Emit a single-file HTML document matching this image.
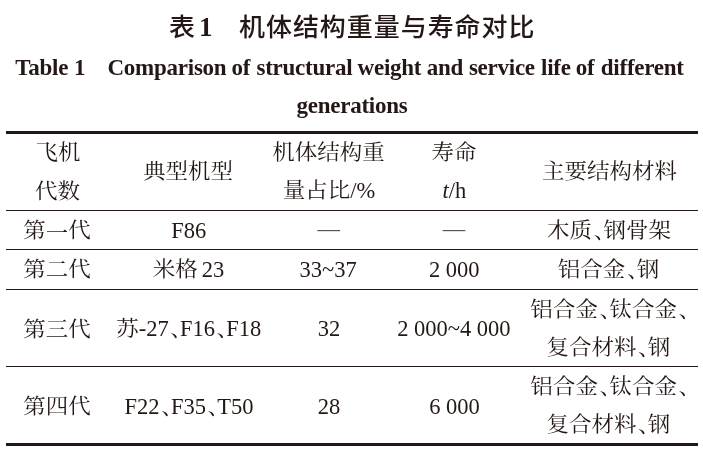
<!DOCTYPE html>
<html lang="zh-CN">
<head>
<meta charset="utf-8">
<title>表1 机体结构重量与寿命对比</title>
<style>
html,body{margin:0;padding:0;background:#fff;}
body{width:703px;height:453px;position:relative;overflow:hidden;color:#231815;}
.t{position:absolute;white-space:nowrap;transform:translateX(-50%);font-family:"Liberation Serif","Noto Serif CJK SC",serif;font-size:22.5px;line-height:26px;font-weight:400;}
.h{display:inline-block;width:0.5em;box-sizing:border-box;padding-left:1.5px;position:relative;top:1px;}
.z{display:inline-block;transform:translateY(-0.7px) scaleY(0.93);transform-origin:50% 50%;}
.s{display:inline-block;width:4px;}
.d{font-family:"Liberation Serif",serif;color:#555;position:relative;top:-2px;}
.zt{position:absolute;white-space:nowrap;transform:scaleY(0.955);transform-origin:50% 88%;font-family:"Liberation Sans","Noto Sans CJK SC",sans-serif;font-size:26px;line-height:30px;font-weight:500;}
.zn{position:absolute;white-space:nowrap;font-family:"Liberation Serif",serif;font-weight:700;font-size:27px;line-height:30px;}
.w{position:absolute;white-space:nowrap;font-family:"Liberation Serif",serif;font-weight:700;font-size:23px;line-height:24px;letter-spacing:-0.25px;}
.rule{position:absolute;left:6px;width:692px;background:#231815;}
</style>
</head>
<body>

<div class="zt" style="left:169px;top:12px;">表</div>
<div class="zn" style="left:199px;top:12px;">1</div>
<div class="zt" style="left:239px;top:12px;letter-spacing:0.95px;">机体结构重量与寿命对比</div>
<div class="w" style="left:15.3px;top:55.5px;">Table</div>
<div class="w" style="left:74.1px;top:55.5px;">1</div>
<div class="w" style="left:107.5px;top:55.5px;">Comparison</div>
<div class="w" style="left:231.6px;top:55.5px;">of</div>
<div class="w" style="left:256.5px;top:55.5px;">structural</div>
<div class="w" style="left:357.6px;top:55.5px;">weight</div>
<div class="w" style="left:426.8px;top:55.5px;">and</div>
<div class="w" style="left:468.9px;top:55.5px;">service</div>
<div class="w" style="left:541.1px;top:55.5px;">life</div>
<div class="w" style="left:575.7px;top:55.5px;">of</div>
<div class="w" style="left:600.8px;top:55.5px;">different</div>
<div class="w" style="left:296.5px;top:93.5px;">generations</div>
<div class="rule" style="top:131px;height:3px;"></div>
<div class="rule" style="top:210px;height:1px;"></div>
<div class="rule" style="top:249px;height:1px;"></div>
<div class="rule" style="top:289px;height:1px;"></div>
<div class="rule" style="top:366px;height:1px;"></div>
<div class="rule" style="top:443px;height:3px;"></div>
<div class="t" style="left:57.9px;top:140.2px;"><span class="z">飞机</span></div>
<div class="t" style="left:57.6px;top:178.7px;"><span class="z">代数</span></div>
<div class="t" style="left:188.1px;top:159px;"><span class="z">典型机型</span></div>
<div class="t" style="left:328.6px;top:140.1px;"><span class="z">机体结构重</span></div>
<div class="t" style="left:328.9px;top:177.8px;"><span class="z">量占比</span>/%</div>
<div class="t" style="left:454.0px;top:140.4px;"><span class="z">寿命</span></div>
<div class="t" style="left:454.3px;top:178px;"><i>t</i>/h</div>
<div class="t" style="left:609.6px;top:159px;"><span class="z">主要结构材料</span></div>
<div class="t" style="left:57.1px;top:218.1px;"><span class="z">第</span><span style="position:relative;top:2.5px"><span class="z">一</span></span><span class="z">代</span></div>
<div class="t" style="left:188.7px;top:218px;">F86</div>
<div class="t" style="left:328.8px;top:218px;"><span class="d">—</span></div>
<div class="t" style="left:454.0px;top:218px;"><span class="d">—</span></div>
<div class="t" style="left:609.0px;top:218.0px;"><span class="z">木质<span class="h">、</span>钢骨架</span></div>
<div class="t" style="left:57.0px;top:256.5px;"><span class="z">第二代</span></div>
<div class="t" style="left:188.5px;top:257px;"><span class="z">米格</span><span class="s"></span>23</div>
<div class="t" style="left:328.2px;top:257px;">33~37</div>
<div class="t" style="left:454.2px;top:257px;">2 000</div>
<div class="t" style="left:608.5px;top:256.5px;"><span class="z">铝合金<span class="h">、</span>钢</span></div>
<div class="t" style="left:57.0px;top:316.6px;"><span class="z">第三代</span></div>
<div class="t" style="left:188.7px;top:315.8px;"><span class="z">苏</span>-27<span class="z"><span class="h">、</span></span>F16<span class="z"><span class="h">、</span></span>F18</div>
<div class="t" style="left:328.9px;top:316px;">32</div>
<div class="t" style="left:453.9px;top:316px;">2 000~4 000</div>
<div class="t" style="left:609.3px;top:297.3px;letter-spacing:0.1px;"><span class="z">铝合金<span class="h">、</span>钛合金<span class="h">、</span></span></div>
<div class="t" style="left:608.4px;top:334.6px;"><span class="z">复合材料<span class="h">、</span>钢</span></div>
<div class="t" style="left:57.0px;top:394.4px;"><span class="z">第四代</span></div>
<div class="t" style="left:189.0px;top:394px;">F22<span class="z"><span class="h">、</span></span>F35<span class="z"><span class="h">、</span></span>T50</div>
<div class="t" style="left:328.9px;top:394px;">28</div>
<div class="t" style="left:454.5px;top:394px;">6 000</div>
<div class="t" style="left:609.3px;top:374.3px;letter-spacing:0.1px;"><span class="z">铝合金<span class="h">、</span>钛合金<span class="h">、</span></span></div>
<div class="t" style="left:608.4px;top:411.9px;"><span class="z">复合材料<span class="h">、</span>钢</span></div>
</body>
</html>
